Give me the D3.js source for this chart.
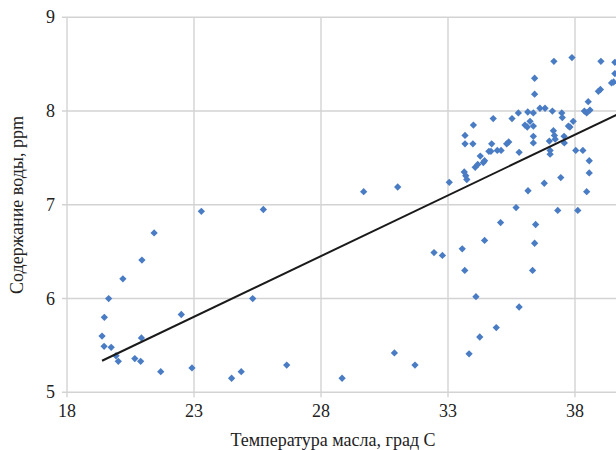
<!DOCTYPE html>
<html>
<head>
<meta charset="utf-8">
<script src="https://cdn.jsdelivr.net/npm/d3@7"></script>
<style>
  html, body { margin: 0; padding: 0; background: #fff; overflow: hidden; }
  svg { display: block; }
</style>
</head>
<body>
<svg id="chart" width="616" height="450"></svg>
<script>
// Oil temperature, °C
const temperature = [
  19.38, 19.47, 19.64, 19.46, 19.74, 19.93, 20.02, 20.20, 20.67, 20.90,
  20.93, 20.95, 21.43, 21.69, 22.50, 22.92, 23.29,
  25.73, 25.31, 24.86, 24.48, 26.65, 28.83, 29.68, 31.02, 30.89, 31.70,
  32.45, 32.78, 33.56, 33.66, 34.10, 33.83, 34.25, 34.90, 35.80, 34.44,
  35.07, 35.68, 36.33, 36.41, 36.45, 37.32, 38.11,
  33.05, 33.64, 33.70, 33.74, 33.67, 33.67, 33.98, 34.00, 34.07, 34.17,
  34.27, 34.39, 34.44, 34.61, 34.69, 34.72, 34.78, 34.94, 35.09, 35.31,
  35.39, 35.52, 35.77, 35.80, 36.03, 36.12, 36.14, 36.23, 36.36, 36.36,
  36.36, 36.36, 36.41, 36.41, 36.62, 36.82, 36.99, 37.02, 37.02, 37.11,
  37.15, 37.19, 37.22, 37.17, 37.48, 37.50, 37.57, 37.58, 37.74, 37.80,
  37.93, 37.88, 38.03, 38.31, 38.37, 38.46, 38.59, 38.52, 38.56, 38.56,
  38.92, 39.00, 39.02, 39.44, 39.52, 39.57, 39.57, 37.44, 36.79, 36.15,
  38.46
];
// Water content, ppm
const water = [
  5.60, 5.80, 6.00, 5.49, 5.48, 5.39, 5.33, 6.21, 5.36, 5.33,
  5.58, 6.41, 6.70, 5.22, 5.83, 5.26, 6.93,
  6.95, 6.00, 5.22, 5.15, 5.29, 5.15, 7.14, 7.19, 5.42, 5.29,
  6.49, 6.46, 6.53, 6.30, 6.02, 5.41, 5.59, 5.69, 5.91, 6.62,
  6.81, 6.97, 6.30, 6.59, 6.79, 6.94, 6.94,
  7.24, 7.35, 7.31, 7.27, 7.74, 7.65, 7.65, 7.85, 7.40, 7.43,
  7.52, 7.45, 7.47, 7.57, 7.57, 7.65, 7.92, 7.58, 7.58, 7.65,
  7.67, 7.92, 7.98, 7.56, 7.85, 7.83, 7.99, 7.89, 7.98, 7.84,
  7.73, 7.66, 8.18, 8.35, 8.03, 8.03, 7.68, 7.58, 7.54, 8.00,
  7.79, 7.74, 7.70, 8.53, 7.98, 7.93, 7.73, 7.66, 7.84, 7.83,
  7.89, 8.57, 7.58, 7.58, 8.00, 7.98, 8.01, 8.10, 7.47, 7.34,
  8.21, 8.23, 8.53, 8.30, 8.31, 8.52, 8.40, 7.29, 7.23, 7.15,
  7.14
];

const xTicks = [18, 23, 28, 33, 38];
const yTicks = [5, 6, 7, 8, 9];

// Linear trend: water = trendIntercept + trendSlope * temperature
const trendIntercept = 2.827;
const trendSlope = 0.1295;
const trendRange = [19.38, 40.6];

const xTitle = "Температура масла, град С";
const yTitle = "Содержание воды, ppm";

const svg = d3.select("#chart");
const fontFamily = "'Liberation Serif', 'Times New Roman', serif";

const x = d3.scaleLinear().domain([18, 43]).range([67, 702]);
const y = d3.scaleLinear().domain([5, 9]).range([392.3, 17.3]);

const gridColor = "#d3d3d3";

// Vertical grid lines with short ticks below the axis
svg.append("g")
  .selectAll("line")
  .data(xTicks)
  .join("line")
  .attr("x1", d => x(d)).attr("x2", d => x(d))
  .attr("y1", y(9)).attr("y2", y(5) + 5)
  .attr("stroke", gridColor).attr("stroke-width", 1.4);

// Horizontal grid lines with short ticks left of the axis
svg.append("g")
  .selectAll("line")
  .data(yTicks)
  .join("line")
  .attr("x1", x(18) - 5).attr("x2", 616)
  .attr("y1", d => y(d)).attr("y2", d => y(d))
  .attr("stroke", gridColor).attr("stroke-width", 1.4);

// Tick labels
svg.append("g")
  .selectAll("text")
  .data(xTicks)
  .join("text")
  .attr("x", d => x(d)).attr("y", y(5) + 25)
  .attr("text-anchor", "middle")
  .attr("font-family", fontFamily).attr("font-size", 18)
  .attr("fill", "#222")
  .text(d => d);

svg.append("g")
  .selectAll("text")
  .data(yTicks)
  .join("text")
  .attr("x", x(18) - 12).attr("y", d => y(d) + 6)
  .attr("text-anchor", "end")
  .attr("font-family", fontFamily).attr("font-size", 18)
  .attr("fill", "#222")
  .text(d => d);

// Axis titles
svg.append("text")
  .attr("x", 333).attr("y", 446)
  .attr("text-anchor", "middle")
  .attr("font-family", fontFamily).attr("font-size", 18)
  .attr("fill", "#222")
  .text(xTitle);

svg.append("text")
  .attr("transform", "translate(23,205) rotate(-90)")
  .attr("text-anchor", "middle")
  .attr("font-family", fontFamily).attr("font-size", 18)
  .attr("fill", "#222")
  .text(yTitle);

// Scatter points as small diamonds
const points = temperature.map((t, i) => ({ t, w: water[i] }));
const diamond = d3.symbol().type(d3.symbolDiamond2).size(34);
svg.append("g")
  .selectAll("path")
  .data(points)
  .join("path")
  .attr("d", diamond)
  .attr("transform", d => `translate(${x(d.t)},${y(d.w)})`)
  .attr("fill", "#4a7cc4");

// Trend line
const trend = trendRange.map(t => [t, trendIntercept + trendSlope * t]);
svg.append("path")
  .datum(trend)
  .attr("d", d3.line().x(d => x(d[0])).y(d => y(d[1])))
  .attr("fill", "none")
  .attr("stroke", "#1a1a1a")
  .attr("stroke-width", 2);
</script>
</body>
</html>
